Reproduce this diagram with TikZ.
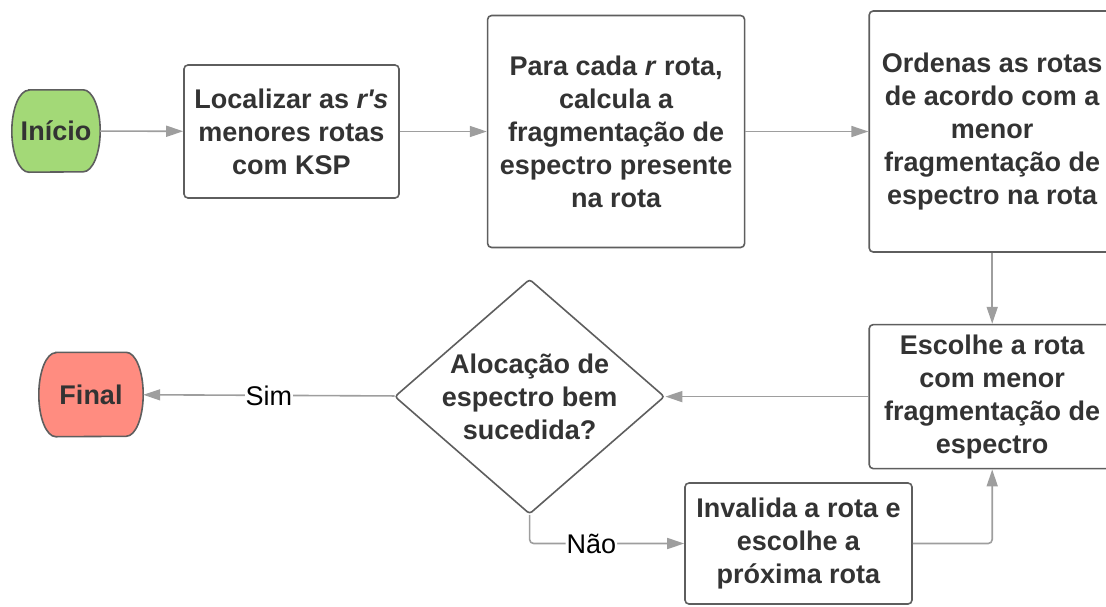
\documentclass[tikz,border=0pt]{standalone}
\usepackage{fontspec}
\setmainfont{Liberation Sans}[Ligatures=TeXOff]
\usepackage{xcolor}
\usepackage{tikz}
\usetikzlibrary{positioning,arrows.meta,shapes.geometric,backgrounds}
\definecolor{edgegray}{HTML}{5E5E5E}
\definecolor{linegray}{HTML}{9E9E9E}
\definecolor{textgray}{HTML}{333333}
\definecolor{startgreen}{HTML}{A3D977}
\definecolor{endred}{HTML}{FF8C80}
\tikzset{
box/.style={
draw=edgegray,
line width=1.6pt,
rounded corners=4pt,
align=center,
inner sep=4pt,
fill=white,
text=textgray,
font=\bfseries\fontsize{27}{33}\selectfont
},
term/.style={
align=center,
inner sep=0pt,
text=textgray,
font=\bfseries\fontsize{27}{33}\selectfont
},
termline/.style={
draw=edgegray,
line width=1.6pt
},
decision/.style={
box,
diamond,
shape aspect=1.149,
inner sep=-4pt,
rounded corners=3pt,
minimum width=270pt,
minimum height=235pt
},
arrow/.style={
-{Triangle[length=17pt,width=11pt]},
draw=linegray,
line width=1.6pt
},
lbl/.style={
fill=white,
inner sep=1pt,
text=black,
font=\fontsize{27}{33}\selectfont
}
}

\begin{document}
\begin{tikzpicture}[x=1pt,y=-1pt]
\path[use as bounding box,clip](0,0) rectangle (1106,606);

\node[term,minimum width=88pt,minimum height=82pt](ini) at (56,131){Início};
\node[box,minimum width=215pt,minimum height=133pt](loc) at (291.5,131.5){Localizar as \textit{r's}\\menores rotas\\com KSP};
\node[box,minimum width=257pt,minimum height=232pt,right=87pt of loc](para){Para cada \textit{r} rota,\\calcula a\\fragmentação de\\espectro presente\\na rota};
\node[box,minimum width=246pt,minimum height=241pt,right=123pt of para](ord){Ordenas as rotas\\de acordo com a\\menor\\fragmentação de\\espectro na rota};
\node[box,minimum width=246pt,minimum height=144pt,below=71pt of ord](esc){Escolhe a rota\\com menor\\fragmentação de\\espectro};
\node[decision,left=203pt of esc](dia){Alocação de\\espectro bem\\sucedida?};
\node[term,minimum width=104pt,minimum height=84pt](fin) at (91,394.5){Final};
\node[box,minimum width=227pt,minimum height=121pt](inv) at (798.5,543.5){Invalida a rota e\\escolhe a\\próxima rota};

% terminator outlines
\begin{scope}[on background layer]
\foreach \n/\c/\r in {ini/startgreen/41,fin/endred/42}
\draw[termline,fill=\c]([xshift=17pt]\n.north west)--([xshift=-17pt]\n.north east)
arc[start angle=90,end angle=-90,x radius=17pt,y radius=\r pt]
--([xshift=17pt]\n.south west)
arc[start angle=-90,end angle=-270,x radius=17pt,y radius=\r pt]--cycle;
\end{scope}

\foreach \x/\y in {ini/loc,loc/para,para/ord,ord/esc,esc/dia}
\draw[arrow](\x)--(\y);
\draw[arrow](dia)--node[lbl]{Sim}(fin);
\draw[arrow,rounded corners=4pt](dia.south)|-node[lbl,pos=0.7]{Não}(inv);
\draw[arrow,rounded corners=4pt](inv.east)-|(esc.south);
\end{tikzpicture}
\end{document}
